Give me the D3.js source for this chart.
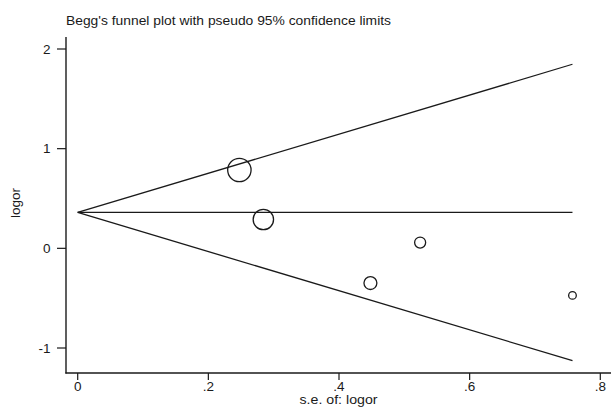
<!DOCTYPE html>
<html><head><meta charset="utf-8">
<script src="https://cdn.jsdelivr.net/npm/d3@7"></script>
<style>
html,body{margin:0;padding:0;background:#fff;}
svg{display:block;font-family:"Liberation Sans",Arial,sans-serif;}
</style></head>
<body>
<script>
// Study data: standard error and log odds ratio
const studySE    = [0.2475, 0.2842, 0.4481, 0.5242, 0.7574];
const studyLogOR = [0.786, 0.289, -0.348, 0.058, -0.472];
// Funnel (pseudo 95% limits) endpoints
const funnelSE    = [0, 0.7574];
const funnelMid   = [0.36, 0.36];
const funnelUpper = [0.36, 1.847];
const funnelLower = [0.36, -1.127];
// Ticks
const xTicks = [0, 0.2, 0.4, 0.6, 0.8];
const xTickLabels = ["0", ".2", ".4", ".6", ".8"];
const yTicks = [-1, 0, 1, 2];
const yTickLabels = ["-1", "0", "1", "2"];
const titleText = "Begg's funnel plot with pseudo 95% confidence limits";
const xTitle = "s.e. of: logor";
const yTitle = "logor";

const W = 611, H = 408;
const svg = d3.select("body").append("svg").attr("width", W).attr("height", H);
const ink = "#1a1a1a";

const x = d3.scaleLinear().domain([0, 0.8]).range([77.7, 600.3]);
const y = d3.scaleLinear().domain([-1, 2]).range([348, 49]);

// axes lines
svg.append("line").attr("x1", 66).attr("x2", 66).attr("y1", 37).attr("y2", 373.5)
  .attr("stroke", ink).attr("stroke-width", 1.4);
svg.append("line").attr("x1", 65.4).attr("x2", 611).attr("y1", 373).attr("y2", 373)
  .attr("stroke", ink).attr("stroke-width", 1.4);

// y ticks
const yg = svg.append("g");
yTicks.forEach((t, i) => {
  yg.append("line").attr("x1", 57).attr("x2", 66).attr("y1", y(t)).attr("y2", y(t))
    .attr("stroke", ink).attr("stroke-width", 1.2);
  yg.append("text").attr("x", 50.5).attr("y", y(t) + 4.8).attr("text-anchor", "end")
    .attr("font-size", 13.5).attr("fill", ink).text(yTickLabels[i]);
});
// x ticks
const xg = svg.append("g");
xTicks.forEach((t, i) => {
  xg.append("line").attr("x1", x(t)).attr("x2", x(t)).attr("y1", 373).attr("y2", 380)
    .attr("stroke", ink).attr("stroke-width", 1.2);
  xg.append("text").attr("x", x(t)).attr("y", 391).attr("text-anchor", "middle")
    .attr("font-size", 13.5).attr("fill", ink).text(xTickLabels[i]);
});

// funnel lines
const line = d3.line().x(d => x(d[0])).y(d => y(d[1]));
[funnelMid, funnelUpper, funnelLower].forEach(arr => {
  svg.append("path").attr("d", line(funnelSE.map((s, i) => [s, arr[i]])))
    .attr("fill", "none").attr("stroke", ink).attr("stroke-width", 1.3);
});

// points sized by weight 1/se^2
const weights = studySE.map(s => 1 / (s * s));
const r = d3.scaleSqrt().domain([0, d3.max(weights)]).range([0, 11.7]);
svg.append("g").selectAll("circle").data(studySE.map((s, i) => ({se: s, v: studyLogOR[i], w: weights[i]})))
  .join("circle")
  .attr("cx", d => x(d.se)).attr("cy", d => y(d.v)).attr("r", d => r(d.w))
  .attr("fill", "none").attr("stroke", ink).attr("stroke-width", 1.3);

// titles
svg.append("text").attr("x", 66).attr("y", 25).attr("font-size", 13.5).attr("fill", ink)
  .attr("textLength", 325).attr("lengthAdjust", "spacingAndGlyphs").text(titleText);
svg.append("text").attr("x", 299.5).attr("y", 403.5)
  .attr("font-size", 13.5).attr("fill", ink)
  .attr("textLength", 78).attr("lengthAdjust", "spacingAndGlyphs").text(xTitle);
svg.append("text").attr("transform", "translate(19.5,203) rotate(-90)").attr("text-anchor", "middle")
  .attr("font-size", 13.5).attr("fill", ink).text(yTitle);
</script>
</body></html>
